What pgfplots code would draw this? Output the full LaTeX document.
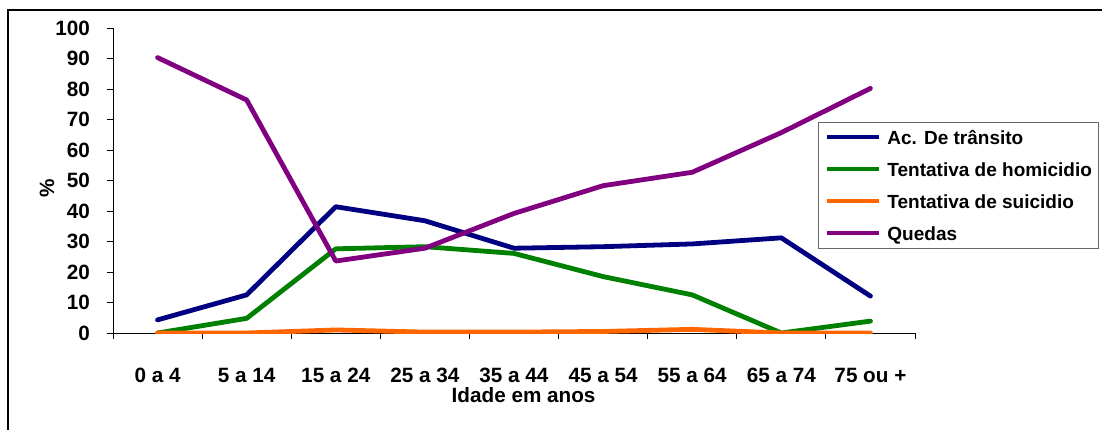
\documentclass[border=0pt]{standalone}
\usepackage{pgfplots}
\pgfplotsset{compat=1.18}
\usepackage{fontspec}
\setmainfont{Liberation Sans}
\definecolor{cBlue}{RGB}{0,0,128}
\definecolor{cGreen}{RGB}{0,128,0}
\definecolor{cOrange}{RGB}{255,102,0}
\definecolor{cPurple}{RGB}{128,0,128}
\begin{document}
\begin{tikzpicture}[x=1pt,y=1pt]
\useasboundingbox (0,0) rectangle (1102,429);
\draw[line width=2pt] (8,-5) -- (8,419) -- (1110,419);
\begin{axis}[
  at={(113pt,96pt)}, anchor=south west,
  scale only axis, width=802pt, height=305pt,
  xmin=-0.5, xmax=8.5, ymin=0, ymax=100,
  axis x line=bottom, axis y line=left,
  axis line style={-, line width=1pt},
  xtick={0,...,8},
  xticklabels={0 a 4,5 a 14,15 a 24,25 a 34,35 a 44,45 a 54,55 a 64,65 a 74,75 ou +},
  major x tick style={draw=none},
  minor xtick={-0.5,0.5,...,8.5},
  ytick={0,10,...,100},
  tick align=outside,
  major tick length=6pt, minor tick length=6pt,
  tick style={black, line width=0.8pt},
  /pgf/number format/assume math mode=true,
  every tick label/.append style={font=\fontsize{20.7}{24}\selectfont\bfseries},
  xticklabel style={anchor=base, inner sep=0pt, yshift=-43pt},
  yticklabel style={anchor=east, inner sep=0pt, xshift=-17pt},
  xlabel={Idade em anos},
  xlabel style={at={(axis description cs:0.512,0)}, anchor=base, yshift=-69pt, inner sep=0pt, font=\fontsize{20.7}{24}\selectfont\bfseries},
  ylabel={\%},
  ylabel style={at={(axis description cs:-0.0823,0.475)}, anchor=center, font=\fontsize{20.7}{24}\selectfont\bfseries},
  legend style={at={(axis description cs:0.879,0.692)}, anchor=north west,
    draw=black!60, line width=1pt, inner xsep=7pt, inner ysep=5pt,
    font=\fontsize{19}{23}\selectfont\bfseries,
    nodes={inner sep=0pt, text height=17pt, text depth=3pt},
    row sep=12pt,
    /tikz/every odd column/.append style={column sep=6pt}},
  legend cell align=left,
  legend image code/.code={\draw[#1, line width=4pt, line cap=butt] (0pt,0pt) -- (52pt,0pt);},
  every axis plot/.append style={line width=4.8pt, line cap=round, line join=round, mark=none},
]
\addplot[cBlue] coordinates {(0,4.3) (1,12.5) (2,41.4) (3,36.8) (4,27.8) (5,28.3) (6,29.2) (7,31.2) (8,12.1)};
\addlegendentry{Ac. De trânsito}
\addplot[cGreen] coordinates {(0,0) (1,4.8) (2,27.6) (3,28.3) (4,26.1) (5,18.5) (6,12.5) (7,0) (8,3.9)};
\addlegendentry{Tentativa de homicidio}
\addplot[cOrange] coordinates {(0,0) (1,0) (2,1.0) (3,0.3) (4,0.3) (5,0.5) (6,1.2) (7,0) (8,0)};
\addlegendentry{Tentativa de suicidio}
\addplot[cPurple] coordinates {(0,90.3) (1,76.4) (2,23.6) (3,27.8) (4,39.2) (5,48.3) (6,52.7) (7,65.7) (8,80.2)};
\addlegendentry{Quedas}
\end{axis}
\end{tikzpicture}
\end{document}
